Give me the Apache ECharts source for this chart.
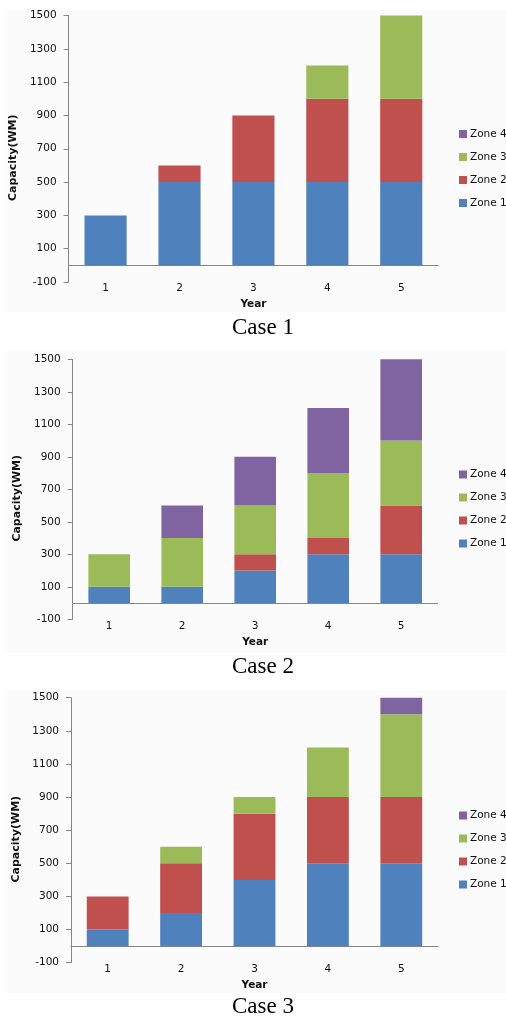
<!DOCTYPE html>
<html><head><meta charset="utf-8">
<script src="https://cdn.jsdelivr.net/npm/echarts@6/dist/echarts.min.js"></script>
<style>html,body{margin:0;padding:0;background:#fff}#c{width:506px;height:1017px}</style>
</head><body><div id="c"></div><script>
const years = ['1', '2', '3', '4', '5'];
const yTicks = [-100, 100, 300, 500, 700, 900, 1100, 1300, 1500];
const zoneNames = ['Zone 1', 'Zone 2', 'Zone 3', 'Zone 4'];
const caseTitles = ['Case 1', 'Case 2', 'Case 3'];

const case1Zone1 = [300, 500, 500, 500, 500];
const case1Zone2 = [0, 100, 400, 500, 500];
const case1Zone3 = [0, 0, 0, 200, 500];
const case1Zone4 = [0, 0, 0, 0, 0];

const case2Zone1 = [100, 100, 200, 300, 300];
const case2Zone2 = [0, 0, 100, 100, 300];
const case2Zone3 = [200, 300, 300, 400, 400];
const case2Zone4 = [0, 200, 300, 400, 500];

const case3Zone1 = [100, 200, 400, 500, 500];
const case3Zone2 = [200, 300, 400, 400, 400];
const case3Zone3 = [0, 100, 100, 300, 500];
const case3Zone4 = [0, 0, 0, 0, 100];

const cases = [
  [case1Zone1, case1Zone2, case1Zone3, case1Zone4],
  [case2Zone1, case2Zone2, case2Zone3, case2Zone4],
  [case3Zone1, case3Zone2, case3Zone3, case3Zone4]
];

const colors = ['#4F81BD', '#C0504D', '#9BBB59', '#8064A2'];
const grids = [
  { left: 66.7, top: 15.5, width: 371.5, height: 266.5 },
  { left: 72.7, top: 359.3, width: 365, height: 260 },
  { left: 71, top: 697.7, width: 367, height: 265 }
];
const panels = [[7, 10, 499, 302], [7, 350, 499, 303], [7, 690, 499, 303]];
const legendTops = [123.5, 464, 805];
const titleTops = [311, 650, 990];
const yNameGaps = [45, 45, 44];

const tickFont = { fontFamily: 'DejaVu Sans', fontSize: 10.5, color: '#111' };

const option = {
  animation: false,
  backgroundColor: '#ffffff',
  graphic: panels.map(p => ({
    type: 'rect', z: -10, silent: true,
    shape: { x: p[0], y: p[1], width: p[2], height: p[3] },
    style: { fill: '#fbfbfb' }
  })),
  title: caseTitles.map((t, i) => ({
    text: t, left: 258, top: titleTops[i], textAlign: 'center',
    textStyle: { fontFamily: 'Liberation Serif', fontSize: 23, fontWeight: 'normal', color: '#000' }
  })),
  legend: legendTops.map(top => ({
    orient: 'vertical', left: 454, top: top,
    data: ['Zone 4', 'Zone 3', 'Zone 2', 'Zone 1'],
    icon: 'rect', itemWidth: 8, itemHeight: 8, itemGap: 12,
    textStyle: { fontFamily: 'DejaVu Sans', fontSize: 10.5, color: '#111', padding: [0, 0, 0, -2] },
    selectedMode: false
  })),
  grid: grids.map(g => Object.assign({ containLabel: false }, g)),
  xAxis: grids.map((g, i) => ({
    type: 'category', gridIndex: i, data: years,
    axisLine: { onZero: true, lineStyle: { color: '#868686', width: 1 } },
    axisTick: { show: false },
    axisLabel: Object.assign({ margin: 1 }, tickFont),
    name: 'Year', nameLocation: 'middle', nameGap: 17,
    nameTextStyle: { fontFamily: 'DejaVu Sans', fontSize: 10.5, fontWeight: 'bold', color: '#111' }
  })),
  yAxis: grids.map((g, i) => ({
    type: 'value', gridIndex: i, min: -100, max: 1500,
    splitLine: { show: false },
    axisLine: { show: true, lineStyle: { color: '#868686', width: 1 } },
    axisTick: { show: true, length: 5, customValues: yTicks, lineStyle: { color: '#868686' } },
    axisLabel: Object.assign({ margin: 12, customValues: yTicks, formatter: v => String(v) }, tickFont),
    name: 'Capacity(WM)', nameLocation: 'middle', nameRotate: 90, nameGap: yNameGaps[i],
    nameTextStyle: { fontFamily: 'DejaVu Sans', fontSize: 11, fontWeight: 'bold', color: '#111', padding: [0, 18, 0, 0] }
  })),
  series: []
};

cases.forEach((zones, ci) => {
  zones.forEach((vals, zi) => {
    option.series.push({
      type: 'bar', name: zoneNames[zi], stack: 'case' + ci,
      xAxisIndex: ci, yAxisIndex: ci, data: vals,
      barCategoryGap: '43%',
      itemStyle: { color: colors[zi] }
    });
  });
});

const chart = echarts.init(document.getElementById('c'), null, { renderer: 'canvas' });
chart.setOption(option);
</script></body></html>
